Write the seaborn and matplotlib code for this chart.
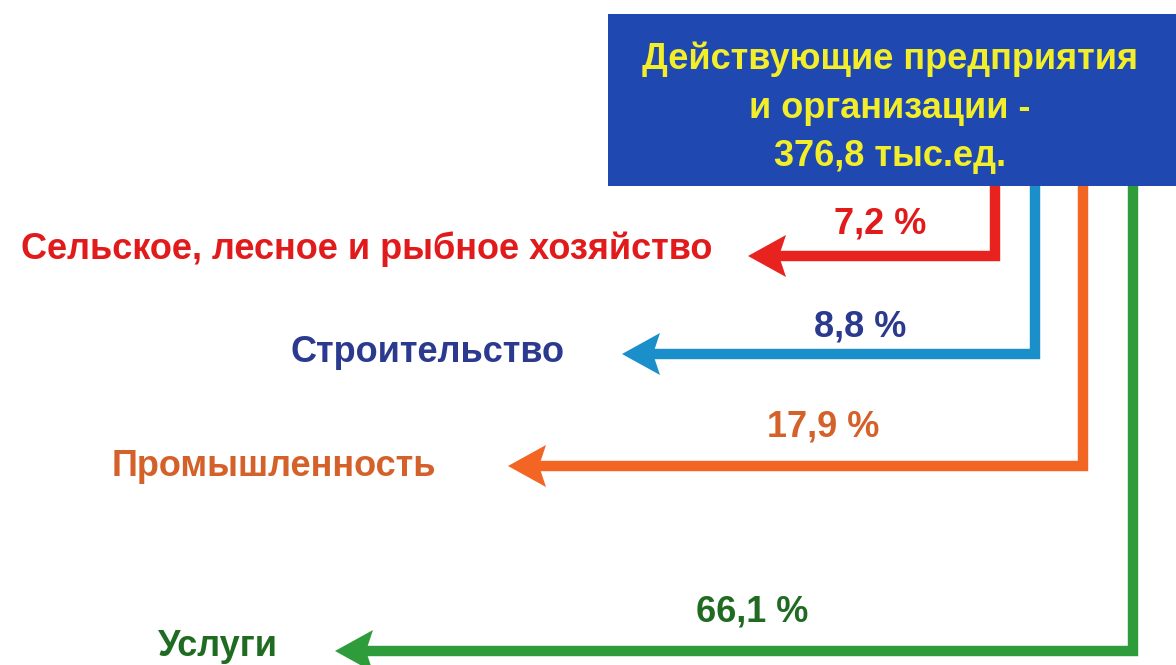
import matplotlib.pyplot as plt
import matplotlib.patches as mpatches
import seaborn as sns

# данные
total_label = "Действующие предприятия\nи организации -\n376,8 тыс.ед."
categories = ["Сельское, лесное и рыбное хозяйство", "Строительство",
              "Промышленность", "Услуги"]
shares = [7.2, 8.8, 17.9, 66.1]

# оформление (пиксельная сетка 1176x665)
line_colors = ["#e8231f", "#1b8fc9", "#f26522", "#2f9c3b"]
text_colors = ["#e11b1b", "#2b3a8f", "#d4612a", "#1f6b22"]
branch_x = [995, 1035, 1083, 1133]
branch_y = [256, 354, 466, 651]
tip_x = [748, 622, 508, 335]
label_pos = [(712, 249, "right"), (427, 353, "center"), (274, 467, "center"), (218, 646, "center")]
pct_pos = [(880, 224), (860, 327), (823, 427), (752, 612)]

sns.set_theme(style="white")
plt.rcParams['font.family'] = ['Liberation Sans', 'DejaVu Sans']

fig = plt.figure(figsize=(11.76, 6.65), dpi=100)
ax = fig.add_axes([0, 0, 1, 1])
ax.set_xlim(0, 1176)
ax.set_ylim(665, 0)
ax.axis("off")

# блок с итогом
box_top, box_bottom = 14, 186
ax.add_patch(mpatches.Rectangle((608, box_top), 600, box_bottom - box_top,
                                facecolor="#1f48b0", edgecolor="none", zorder=3))
ax.text(890, 108, total_label, color="#f2ee2a", fontsize=26, fontweight="bold",
        ha="center", va="center", linespacing=1.5, zorder=4)

for i, (cat, val) in enumerate(zip(categories, shares)):
    c = line_colors[i]
    xs = [branch_x[i], branch_x[i], tip_x[i] + 30]
    ys = [box_bottom, branch_y[i], branch_y[i]]
    sns.lineplot(x=xs, y=ys, sort=False, estimator=None, errorbar=None,
                 color=c, lw=7.5, ax=ax,
                 solid_joinstyle="miter", solid_capstyle="butt", zorder=2)
    t, y = tip_x[i], branch_y[i]
    head = [(t, y), (t + 38, y - 21), (t + 31, y), (t + 38, y + 21)]
    ax.add_patch(mpatches.Polygon(head, closed=True, facecolor=c, edgecolor="none", zorder=2))

    lx, ly, ha = label_pos[i]
    ax.text(lx, ly, cat, color=text_colors[i], fontsize=26, fontweight="bold",
            ha=ha, va="center")
    px, py = pct_pos[i]
    ax.text(px, py, f"{val:.1f} %".replace(".", ","), color=text_colors[i],
            fontsize=26, fontweight="bold", ha="center", va="center")

fig.savefig("out.png", dpi=100)
